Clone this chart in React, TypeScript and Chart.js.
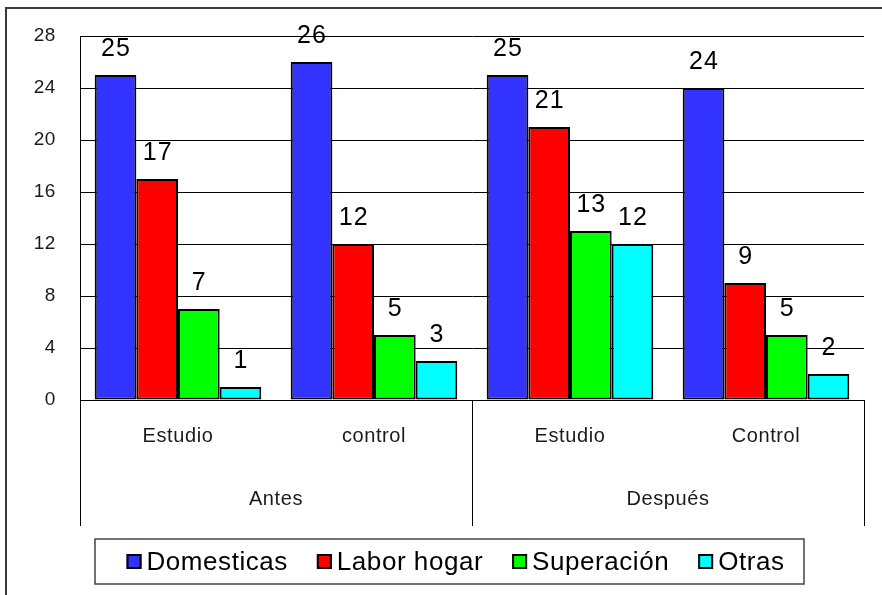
import React, { useEffect, useRef } from "react";
import { Chart, registerables } from "chart.js";

Chart.register(...registerables);

const categories = ["Estudio", "control", "Estudio", "Control"];
const groups = ["Antes", "Después"];
const seriesNames = ["Domesticas", "Labor hogar", "Superación", "Otras"];
const domesticas = [25, 26, 25, 24];
const laborHogar = [17, 12, 21, 9];
const superacion = [7, 5, 13, 5];
const otras = [1, 3, 12, 2];
const seriesColors = ["#3333FF", "#FF0000", "#00FF00", "#00FFFF"];
const yMin = 0;
const yMax = 28;
const yStep = 4;

const FONT = "'Liberation Sans', Arial, sans-serif";

const framePlugin = {
  id: "frame",
  beforeDraw(chart: any) {
    const ctx = chart.ctx;
    ctx.save();
    ctx.fillStyle = "#ffffff";
    ctx.fillRect(0, 0, chart.width, chart.height);
    ctx.strokeStyle = "#3a3a3a";
    ctx.lineWidth = 2;
    ctx.strokeRect(6, 8, chart.width + 10, chart.height + 10);
    ctx.restore();
    (ctx as any).letterSpacing = "0.6px";
  },
};

const groupAxisPlugin = {
  id: "groupAxis",
  afterDraw(chart: any) {
    const x = chart.scales.x;
    const ctx = chart.ctx;
    const top = x.top;
    const bottom = x.top + 126;
    const perGroup = categories.length / groups.length;
    const seps: number[] = [x.left];
    for (let g = 1; g < groups.length; g++) {
      const a = x.getPixelForValue(g * perGroup - 1);
      const b = x.getPixelForValue(g * perGroup);
      seps.push((a + b) / 2);
    }
    seps.push(x.right);
    ctx.save();
    ctx.strokeStyle = "#000";
    ctx.lineWidth = 1;
    seps.forEach((sx) => {
      const px = Math.round(sx) + 0.5;
      ctx.beginPath();
      ctx.moveTo(px, top);
      ctx.lineTo(px, bottom);
      ctx.stroke();
    });
    ctx.fillStyle = "#1a1a1a";
    ctx.font = `20px ${FONT}`;
    ctx.textAlign = "center";
    ctx.textBaseline = "middle";
    groups.forEach((gName, g) => {
      const cx = (seps[g] + seps[g + 1]) / 2;
      ctx.fillText(gName, cx, top + 99);
    });
    ctx.restore();
  },
};

const valueLabelPlugin = {
  id: "valueLabels",
  afterDatasetsDraw(chart: any) {
    const ctx = chart.ctx;
    ctx.save();
    ctx.fillStyle = "#000";
    ctx.font = `25px ${FONT}`;
    (ctx as any).letterSpacing = "1px";
    ctx.textAlign = "center";
    ctx.textBaseline = "middle";
    chart.data.datasets.forEach((ds: any, i: number) => {
      const meta = chart.getDatasetMeta(i);
      meta.data.forEach((bar: any, j: number) => {
        ctx.fillText(String(ds.data[j]), bar.x + 0.5, bar.y - 26);
      });
    });
    ctx.restore();
  },
};

const legendBoxPlugin = {
  id: "legendBox",
  afterDraw(chart: any) {
    const ctx = chart.ctx;
    const boxLeft = chart.chartArea.left + 15;
    const boxRight = boxLeft + 709;
    const boxTop = chart.scales.x.top + 139;
    const boxH = 45;
    const sq = 15;
    const gapText = 5;
    const gapItem = 29;
    ctx.save();
    ctx.font = `26px ${FONT}`;
    (ctx as any).letterSpacing = "0.55px";
    const widths = chart.data.datasets.map((ds: any) => ctx.measureText(ds.label).width);
    let total = 0;
    widths.forEach((w: number, i: number) => {
      total += sq + gapText + w + (i < widths.length - 1 ? gapItem : 0);
    });
    ctx.strokeStyle = "#444";
    ctx.lineWidth = 1.5;
    ctx.strokeRect(boxLeft, boxTop, boxRight - boxLeft, boxH);
    let cx = boxLeft + (boxRight - boxLeft - total) / 2 + 6;
    const cy = boxTop + boxH / 2;
    chart.data.datasets.forEach((ds: any, i: number) => {
      ctx.fillStyle = ds.backgroundColor;
      ctx.fillRect(cx, cy - sq / 2, sq, sq);
      ctx.strokeStyle = "#000";
      ctx.lineWidth = 2;
      ctx.strokeRect(cx + 1, cy - sq / 2 + 1, sq - 2, sq - 2);
      ctx.fillStyle = "#000";
      ctx.textAlign = "left";
      ctx.textBaseline = "middle";
      ctx.fillText(ds.label, cx + sq + gapText, cy + 1);
      cx += sq + gapText + widths[i] + gapItem;
    });
    ctx.restore();
  },
};

export default function App() {
  const ref = useRef<HTMLCanvasElement | null>(null);
  useEffect(() => {
    if (!ref.current) return;
    const seriesValues = [domesticas, laborHogar, superacion, otras];
    const chart = new Chart(ref.current, {
      type: "bar",
      data: {
        labels: categories,
        datasets: seriesNames.map((name, i) => ({
          label: name,
          data: seriesValues[i],
          backgroundColor: seriesColors[i],
          borderColor: "#000",
          borderWidth: 2,
          borderSkipped: false,
          categoryPercentage: 0.85,
          barPercentage: 1.0,
        })),
      },
      options: {
        responsive: false,
        animation: false,
        layout: { padding: { top: 36, right: 18, bottom: 69, left: 0 } },
        plugins: {
          legend: { display: false },
          tooltip: { enabled: false },
        },
        scales: {
          x: {
            grid: { display: false, drawTicks: false },
            border: { display: true, color: "#000", width: 1 },
            ticks: {
              color: "#1a1a1a",
              font: { family: FONT, size: 20 },
              padding: 24,
              maxRotation: 0,
            },
            afterFit(scale: any) {
              scale.height = 126;
            },
          },
          y: {
            min: yMin,
            max: yMax,
            ticks: {
              stepSize: yStep,
              color: "#1a1a1a",
              font: { family: FONT, size: 19 },
              padding: 24,
            },
            grid: { color: "#000", drawTicks: false, lineWidth: 1 },
            border: { display: true, color: "#000", width: 1 },
            afterFit(scale: any) {
              scale.width = 80;
            },
          },
        },
      },
      plugins: [framePlugin, valueLabelPlugin, groupAxisPlugin, legendBoxPlugin],
    });
    return () => chart.destroy();
  }, []);
  return (
    <div style={{ position: "fixed", left: 0, top: 0, width: 882, height: 595, background: "#fff" }}>
      <canvas ref={ref} width={882} height={595} style={{ display: "block" }} />
    </div>
  );
}
